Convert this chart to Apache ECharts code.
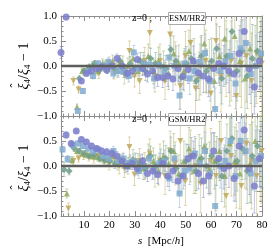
<!DOCTYPE html>
<html><head><meta charset="utf-8">
<script src="https://cdn.jsdelivr.net/npm/echarts@6/dist/echarts.min.js"></script>
<style>html,body{margin:0;padding:0;background:#fff}#c{width:274px;height:252px}</style>
</head><body><div id="c"></div>
<script>
// separation s [Mpc/h] for the first series; others are slightly shifted bins
const sBase = [1,3,5,7,9,11,13,15,17,19,21,23,25,27,29,31,33,35,37,39,41,43,45,47,49,51,53,55,57,59,61,63,65,67,69,71,73,75,77,79];
const sShift = [0, 0.6, 1.2, 0.3, 0.9];
const xMajor = [10,20,30,40,50,60,70,80];
const xMinor = [2,4,6,8,12,14,16,18,22,24,26,28,32,34,36,38,42,44,46,48,52,54,56,58,62,64,66,68,72,74,76,78];
const panelLabels = ['ESM/HR2', 'GSM/HR2'];
const redshiftLabel = 'z=0 ,';

// ESM panel (top)
const esmCircle = [0.27,0.98,-1.3,-1.2,-0.3,-0.15,-0.1,-0.05,-0.02,-0.08,0.0,0.15,0.0,-0.15,-0.1,0.13,-0.05,-0.16,-0.1,-0.23,-0.23,-0.2,-0.26,-0.05,-0.21,-0.07,0.1,-0.14,-0.2,-0.26,-0.05,0.05,0.0,-0.1,-0.16,0.25,0.69,-0.05,-0.42,0.1];
const esmSquare = [null,null,-1.2,-0.9,-0.5,-0.1,-0.2,0.05,0.0,0.08,-0.15,-0.1,-0.12,-0.2,0.27,-0.05,0.05,0.03,-0.25,0.02,-0.1,0.17,0.0,-0.59,0.05,-0.25,-0.1,0.08,0.26,-0.3,-0.86,-0.1,0.1,0.2,-0.35,0.35,0.46,-0.16,0.0,0.25];
const esmDiamond = [null,null,-1.1,-0.25,-0.1,-0.02,0.05,-0.08,0.0,0.02,-0.05,0.1,-0.1,0.05,-0.05,0.1,-0.1,0.15,0.05,0.0,-0.05,0.33,0.1,-0.23,0.05,0.15,-0.3,0.2,-0.1,0.1,0.35,-0.25,0.2,0.69,-0.1,0.3,-0.2,0.15,0.3,0.5];
const esmUp = [null,null,-1.2,-0.82,-0.1,-0.05,0.02,-0.1,0.05,-0.05,0.1,-0.1,0.05,0.0,0.15,-0.1,0.05,0.2,-0.1,0.1,0.0,-0.15,0.25,0.05,-0.1,0.3,0.1,-0.2,0.45,0.0,-0.3,0.2,0.55,-0.15,0.6,0.1,-0.25,0.35,0.0,0.2];
const esmDown = [null,null,-0.3,-0.47,-0.12,-0.08,-0.05,-0.15,0.0,0.05,-0.12,0.05,-0.18,0.3,-0.2,-0.3,0.1,0.66,-0.2,0.1,-0.3,0.63,0.05,-0.4,0.2,0.46,-0.45,0.0,0.1,-0.55,0.5,-0.2,0.15,0.1,-0.6,0.05,0.2,-0.3,0.25,0.05];

// GSM panel (bottom)
const gsmCircle = [null,0.62,0.45,0.7,0.53,0.48,0.4,0.35,0.3,0.28,0.25,0.2,0.1,0.0,0.05,-0.05,0.1,-0.15,-0.1,-0.17,0.05,-0.2,-0.1,-0.3,-0.2,0.15,0.2,-0.15,-0.3,-0.2,0.3,0.15,-0.05,0.0,-0.25,0.4,0.72,-0.05,-0.4,0.15];
const gsmSquare = [0.33,0.14,0.42,0.45,0.4,0.35,0.3,0.33,0.2,0.15,0.3,0.1,0.15,0.05,0.1,-0.1,0.0,0.15,-0.05,0.05,0.1,-0.25,0.15,-0.55,-0.1,-0.05,0.25,0.05,0.3,-0.15,-0.8,0.0,0.1,0.5,-0.2,0.5,0.3,-0.15,0.1,0.2];
const gsmDiamond = [-0.07,-0.1,0.35,0.3,0.25,0.2,0.22,0.15,0.12,0.1,0.05,0.12,0.0,0.08,0.1,0.05,-0.05,0.2,0.0,0.1,0.15,0.3,-0.05,-0.2,0.1,0.2,-0.1,0.15,0.0,0.2,0.1,-0.2,0.3,0.55,0.1,0.35,-0.1,0.2,0.4,0.3];
const gsmUp = [null,-0.55,0.12,0.3,0.25,0.22,0.2,0.18,0.15,0.12,0.2,0.05,0.1,0.0,0.15,0.05,-0.05,0.2,0.1,-0.1,0.2,0.05,0.3,-0.15,0.1,0.35,-0.1,0.15,0.4,-0.05,0.1,0.3,-0.2,0.45,0.1,-0.15,0.3,0.05,0.5,0.15];
const gsmDown = [null,-0.85,0.1,0.15,0.2,0.18,0.15,0.2,0.1,0.05,0.15,0.0,-0.05,0.38,-0.17,0.1,0.0,0.25,-0.1,0.1,-0.2,0.3,0.05,0.5,-0.3,0.2,0.0,-0.35,0.3,0.1,-0.2,0.5,-0.6,0.2,0.0,-0.4,0.45,0.1,-0.2,0.3];

// error bar half-widths (same for both panels)
const errCircle = [0.12,0.06,0.05,0.04,0.04,0.04,0.05,0.05,0.06,0.07,0.08,0.09,0.1,0.11,0.12,0.13,0.14,0.16,0.17,0.18,0.2,0.21,0.23,0.25,0.26,0.28,0.3,0.31,0.33,0.35,0.37,0.39,0.41,0.43,0.45,0.47,0.5,0.52,0.54,0.57];
const errSquare = [0.12,0.07,0.05,0.05,0.05,0.05,0.06,0.06,0.07,0.08,0.09,0.1,0.11,0.12,0.14,0.15,0.16,0.18,0.19,0.21,0.22,0.24,0.26,0.28,0.3,0.32,0.34,0.36,0.38,0.4,0.42,0.44,0.47,0.49,0.51,0.54,0.56,0.59,0.61,0.64];
const errDiamond = [0.14,0.08,0.06,0.05,0.05,0.06,0.06,0.07,0.08,0.09,0.1,0.11,0.13,0.14,0.16,0.17,0.19,0.2,0.22,0.24,0.26,0.28,0.3,0.32,0.34,0.37,0.39,0.41,0.44,0.46,0.49,0.51,0.54,0.57,0.6,0.62,0.65,0.68,0.71,0.74];
const errUp = [0.16,0.09,0.07,0.06,0.06,0.07,0.07,0.08,0.09,0.1,0.12,0.13,0.15,0.16,0.18,0.2,0.22,0.24,0.26,0.28,0.3,0.32,0.35,0.37,0.4,0.42,0.45,0.48,0.5,0.53,0.56,0.59,0.62,0.65,0.68,0.71,0.74,0.78,0.81,0.85];
const errDown = [0.2,0.11,0.08,0.07,0.07,0.08,0.09,0.1,0.11,0.13,0.14,0.16,0.18,0.2,0.22,0.25,0.27,0.29,0.32,0.34,0.37,0.4,0.43,0.46,0.49,0.52,0.55,0.58,0.62,0.65,0.69,0.72,0.76,0.8,0.84,0.88,0.92,0.96,1.0,1.05];

const panels = [
  [esmCircle, esmSquare, esmDiamond, esmUp, esmDown],
  [gsmCircle, gsmSquare, gsmDiamond, gsmUp, gsmDown]
];
const errs = [errCircle, errSquare, errDiamond, errUp, errDown];
const colors = ['#7b7ecb', '#82abd0', '#6f9d8a', '#8fa95e', '#c0a85c'];
const barColors = ['rgba(123,126,203,0.45)', 'rgba(130,171,208,0.45)', 'rgba(111,157,138,0.45)', 'rgba(143,169,94,0.45)', 'rgba(192,168,92,0.45)'];
const symbols = ['circle', 'rect', 'diamond', 'triangle', 'path://M0,0 L10,0 L5,8.66 Z'];
const sizes = [7, 6, 7, 6, 6];
const drawOrder = [4, 3, 2, 1, 0];

const serif = 'Liberation Serif, Times New Roman, serif';
const frame = '#8c8c8c';

const grids = [
  {left: 61, top: 16, width: 201, height: 100},
  {left: 61, top: 116, width: 201, height: 100}
];

const xAxes = [], yAxes = [], series = [];
grids.forEach((g, gi) => {
  const base = {gridIndex: gi, type: 'value', min: 1, max: 80, splitLine: {show: false}};
  xAxes.push(Object.assign({}, base, {position: 'bottom',
    axisLine: {show: true, onZero: false, lineStyle: {color: frame, width: 1}},
    axisTick: {show: true, inside: true, length: 5, customValues: xMajor, lineStyle: {color: frame}},
    axisLabel: {show: gi === 1, customValues: xMajor, margin: 4, fontFamily: serif, fontSize: 11, color: '#000'}}));
  xAxes.push(Object.assign({}, base, {position: 'bottom',
    axisLine: {show: false, onZero: false},
    axisTick: {show: true, inside: true, length: 2.5, customValues: xMinor, lineStyle: {color: frame}},
    axisLabel: {show: false}}));
  xAxes.push(Object.assign({}, base, {position: 'top',
    axisLine: {show: true, onZero: false, lineStyle: {color: frame, width: 1}},
    axisTick: {show: true, inside: true, length: 5, customValues: xMajor, lineStyle: {color: frame}},
    axisLabel: {show: false}}));
  xAxes.push(Object.assign({}, base, {position: 'top',
    axisLine: {show: false, onZero: false},
    axisTick: {show: true, inside: true, length: 2.5, customValues: xMinor, lineStyle: {color: frame}},
    axisLabel: {show: false}}));
  const ybase = {gridIndex: gi, type: 'value', min: -1, max: 1, interval: 0.5, splitLine: {show: false},
    axisLine: {show: true, onZero: false, lineStyle: {color: frame, width: 1}},
    axisTick: {show: true, inside: true, length: 5, lineStyle: {color: frame}},
    minorTick: {show: true, splitNumber: 5, length: 2.5, lineStyle: {color: frame}}};
  yAxes.push(Object.assign({}, ybase, {position: 'left',
    axisLabel: {show: true, margin: 4, fontFamily: serif, fontSize: 11, color: '#000', showMaxLabel: gi === 0,
      formatter: v => (v < 0 ? '\u2212' : '') + Math.abs(v).toFixed(1)}}));
  yAxes.push(Object.assign({}, ybase, {position: 'right', axisLabel: {show: false}}));

  const xi = gi * 4, yi = gi * 2;
  drawOrder.forEach(k => {
    const vals = panels[gi][k];
    const pts = [], bars = [];
    vals.forEach((v, i) => {
      if (v === null) return;
      const s = sBase[i] + sShift[k];
      pts.push([s, v]);
      bars.push([s, v, errs[k][i]]);
    });
    series.push({
      type: 'custom', xAxisIndex: xi, yAxisIndex: yi, z: 1, silent: true,
      data: bars, encode: {x: 0, y: 1},
      renderItem: (params, api) => {
        const x = api.value(0), y = api.value(1), e = api.value(2);
        const cs = params.coordSys;
        const top = api.coord([x, y + e]), bot = api.coord([x, y - e]);
        const px = top[0];
        const t = Math.max(top[1], cs.y), b = Math.min(bot[1], cs.y + cs.height);
        if (t >= b) return null;
        const st = {stroke: barColors[k], lineWidth: 1};
        const ch = [{type: 'line', shape: {x1: px, y1: t, x2: px, y2: b}, style: st}];
        if (top[1] >= cs.y) ch.push({type: 'line', shape: {x1: px - 1.5, y1: top[1], x2: px + 1.5, y2: top[1]}, style: st});
        if (bot[1] <= cs.y + cs.height) ch.push({type: 'line', shape: {x1: px - 1.5, y1: bot[1], x2: px + 1.5, y2: bot[1]}, style: st});
        return {type: 'group', children: ch};
      }
    });
    series.push({
      type: 'scatter', xAxisIndex: xi, yAxisIndex: yi, z: 2, silent: true, clip: true,
      data: pts, symbol: symbols[k], symbolSize: sizes[k],
      itemStyle: {color: colors[k], opacity: 0.85}
    });
  });
  series.push({
    type: 'line', xAxisIndex: xi, yAxisIndex: yi, z: 3, silent: true, symbol: 'none',
    data: [[1, 0], [80, 0]], lineStyle: {color: '#5d5d5d', width: 2.5}
  });
});

// y-axis title: xi-hat_4 / xi_4 - 1, built from pieces so the hat sits over the first xi
const mctx = document.createElement('canvas').getContext('2d');
function tw(txt, size, italic) { mctx.font = (italic ? 'italic ' : '') + size + 'px ' + serif; return mctx.measureText(txt).width; }
function ytitle(cx, cy) {
  const big = 14, small = 9;
  const parts = [
    {t: '\u03BE', s: big, it: true, dy: 0},
    {t: '4', s: small, it: false, dy: 4},
    {t: '/', s: big, it: false, dy: 0},
    {t: '\u03BE', s: big, it: true, dy: 0},
    {t: '4', s: small, it: false, dy: 4},
    {t: ' \u2212 1', s: big, it: false, dy: 0}
  ];
  let W = 0; parts.forEach(p => { p.w = tw(p.t, p.s, p.it); W += p.w; });
  let x = -W / 2;
  const children = [];
  parts.forEach((p, i) => {
    children.push({type: 'text', x: x, y: p.dy, style: {text: p.t, fontFamily: serif, fontSize: p.s,
      fontStyle: p.it ? 'italic' : 'normal', fill: '#000', align: 'left', verticalAlign: 'middle'}});
    if (i === 0) {
      children.push({type: 'text', x: x + p.w / 2 + 1, y: -8, style: {text: '\u02C6', fontFamily: serif, fontSize: 12,
        fill: '#000', align: 'center', verticalAlign: 'middle'}});
    }
    x += p.w;
  });
  return {type: 'group', x: cx, y: cy, rotation: Math.PI / 2, children: children};
}

const graphics = [
  ytitle(24, 66), ytitle(24, 168),
  {type: 'text', x: 161, y: 241, style: {
    text: '{i|s}{n|  [Mpc/}{i|h}{n|]}', align: 'center', verticalAlign: 'middle',
    rich: {i: {fontFamily: serif, fontSize: 11, fontStyle: 'italic', fill: '#000'},
           n: {fontFamily: serif, fontSize: 11, fill: '#000'}}}}
];
[18, 119].forEach((cy, pi) => {
  graphics.push({type: 'text', x: 142, y: cy, z: 10, style: {text: redshiftLabel, fontFamily: serif, fontSize: 10, fill: '#000', align: 'center', verticalAlign: 'middle'}});
  graphics.push({type: 'rect', z: 10, shape: {x: 168.5, y: cy - 5.5, width: 37, height: 12}, style: {fill: '#fff', stroke: '#aaa', lineWidth: 1}});
  graphics.push({type: 'text', x: 187, y: cy + 0.5, z: 11, style: {text: panelLabels[pi], fontFamily: serif, fontSize: 8.5, fill: '#000', align: 'center', verticalAlign: 'middle'}});
});

const chart = echarts.init(document.getElementById('c'), null, {renderer: 'canvas'});
chart.setOption({
  animation: false,
  grid: grids,
  xAxis: xAxes,
  yAxis: yAxes,
  series: series,
  graphic: graphics
});
</script>
</body></html>
